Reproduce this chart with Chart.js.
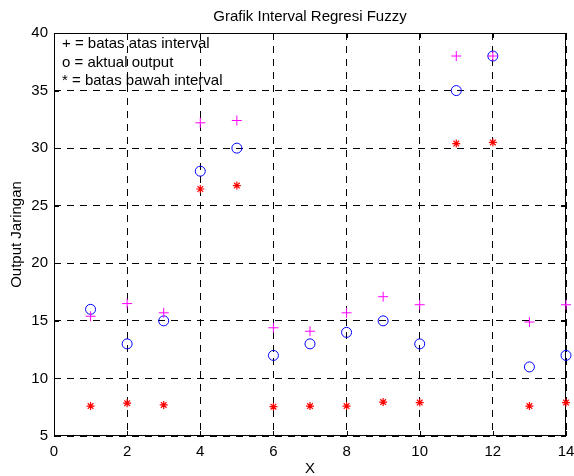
<!DOCTYPE html>
<html>
<head>
<meta charset="utf-8">
<script src="https://cdn.jsdelivr.net/npm/chart.js@4.4.0/dist/chart.umd.min.js"></script>
<style>
    html, body { margin: 0; padding: 0; background: #fff; }
    #wrap { width: 574px; height: 476px; position: relative; }
</style>
</head>
<body>
<div id="wrap"><canvas id="fuzzyChart"></canvas></div>
<script>
const xValues = [1, 2, 3, 4, 5, 6, 7, 8, 9, 10, 11, 12, 13, 14];
const batasAtas = [15.4, 16.5, 15.7, 32.2, 32.4, 14.4, 14.1, 15.7, 17.1, 16.4, 38.0, 38.0, 14.9, 16.4];
const aktualOutput = [16, 13, 15, 28, 30, 12, 13, 14, 15, 13, 35, 38, 11, 12];
const batasBawah = [7.6, 7.85, 7.7, 26.45, 26.75, 7.55, 7.6, 7.6, 7.95, 7.9, 30.4, 30.5, 7.6, 7.9];
const legendLines = ['+ = batas atas interval', 'o = aktual output', '* = batas bawah interval'];
const FONT = '"Liberation Sans", Arial, Helvetica, sans-serif';
const FONT_SIZE = 15;

function toPoints(values) {
    return xValues.map((x, i) => ({ x: x, y: values[i] }));
}

// box, inward ticks and the text bits MATLAB puts on the figure
const matlabDecor = {
    id: 'matlabDecor',
    beforeDatasetsDraw(chart) {
        const { ctx, chartArea: a, scales } = chart;
        ctx.save();
        ctx.strokeStyle = '#000';
        ctx.lineWidth = 1;
        ctx.setLineDash([]);
        ctx.strokeRect(Math.round(a.left) + 0.5, Math.round(a.top) + 0.5,
            Math.round(a.right - a.left) - 1, Math.round(a.bottom - a.top) - 1);
        ctx.beginPath();
        scales.x.ticks.forEach(t => {
            const px = Math.round(scales.x.getPixelForValue(t.value)) + 0.5;
            ctx.moveTo(px, a.bottom); ctx.lineTo(px, a.bottom - 5);
            ctx.moveTo(px, a.top); ctx.lineTo(px, a.top + 5);
        });
        scales.y.ticks.forEach(t => {
            const py = Math.round(scales.y.getPixelForValue(t.value)) + 0.5;
            ctx.moveTo(a.left, py); ctx.lineTo(a.left + 5, py);
            ctx.moveTo(a.right, py); ctx.lineTo(a.right - 5, py);
        });
        ctx.stroke();
        ctx.restore();
    },
    afterDraw(chart) {
        const { ctx, chartArea: a } = chart;
        ctx.save();
        ctx.fillStyle = '#000';
        ctx.font = FONT_SIZE + 'px ' + FONT;
        ctx.textBaseline = 'middle';

        ctx.textAlign = 'center';
        ctx.fillText('Grafik Interval Regresi Fuzzy', (a.left + a.right) / 2, 17);
        ctx.fillText('X', (a.left + a.right) / 2, 469);

        ctx.save();
        ctx.translate(17, (a.top + a.bottom) / 2);
        ctx.rotate(-Math.PI / 2);
        ctx.fillText('Output Jaringan', 0, 0);
        ctx.restore();

        ctx.textAlign = 'left';
        legendLines.forEach((line, i) => {
            ctx.fillText(line, 62, 44 + i * 18.5);
        });
        ctx.restore();
    }
};

new Chart(document.getElementById('fuzzyChart'), {
    type: 'scatter',
    data: {
        datasets: [
            {
                label: 'batas atas interval',
                data: toPoints(batasAtas),
                pointStyle: 'cross',
                pointRadius: 5,
                borderColor: '#ff00ff',
                backgroundColor: '#ff00ff',
                borderWidth: 1
            },
            {
                label: 'aktual output',
                data: toPoints(aktualOutput),
                pointStyle: 'circle',
                pointRadius: 5,
                borderColor: '#0000ff',
                backgroundColor: 'rgba(0,0,0,0)',
                borderWidth: 1
            },
            {
                label: 'batas bawah interval',
                data: toPoints(batasBawah),
                pointStyle: 'star',
                pointRadius: 4,
                borderColor: '#ff0000',
                backgroundColor: '#ff0000',
                borderWidth: 1.2
            }
        ]
    },
    options: {
        responsive: true,
        maintainAspectRatio: false,
        animation: false,
        clip: false,
        layout: { padding: { top: 33, right: 8, left: 0, bottom: 0 } },
        plugins: {
            legend: { display: false },
            tooltip: { enabled: false }
        },
        scales: {
            x: {
                type: 'linear',
                min: 0,
                max: 14,
                afterFit: scale => {
                    scale.height = 40;
                    scale.paddingLeft = 0;
                    scale.paddingRight = 0;
                },
                ticks: {
                    stepSize: 2,
                    color: '#000',
                    padding: 7,
                    font: { family: FONT, size: FONT_SIZE }
                },
                grid: { color: '#000', lineWidth: 1, drawTicks: false },
                border: { display: false, dash: [7, 6] }
            },
            y: {
                min: 5,
                max: 40,
                afterFit: scale => {
                    scale.width = 54;
                    scale.paddingTop = 0;
                    scale.paddingBottom = 0;
                },
                ticks: {
                    stepSize: 5,
                    color: '#000',
                    padding: 6,
                    font: { family: FONT, size: FONT_SIZE }
                },
                grid: { color: '#000', lineWidth: 1, drawTicks: false },
                border: { display: false, dash: [7, 6] }
            }
        }
    },
    plugins: [matlabDecor]
});
</script>
</body>
</html>
